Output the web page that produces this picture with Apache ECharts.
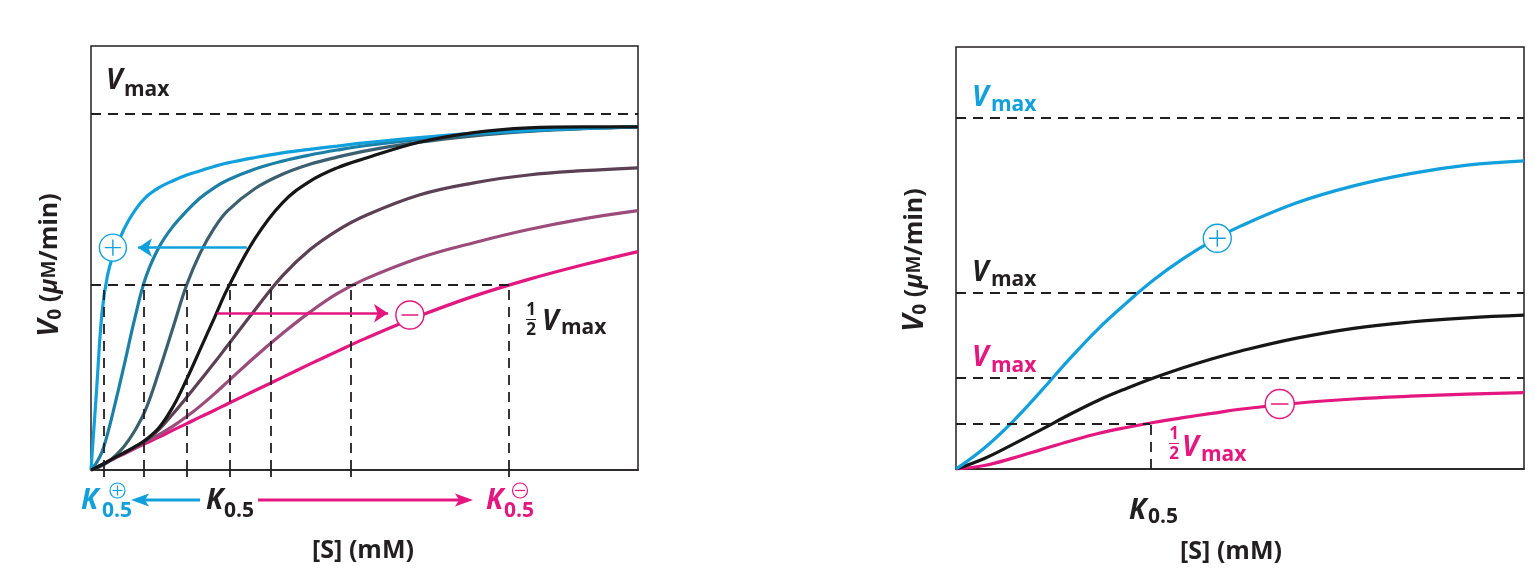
<!DOCTYPE html>
<html>
<head>
<meta charset="utf-8">
<title>Allosteric modulation</title>
<script src="https://cdn.jsdelivr.net/npm/echarts@6/dist/echarts.min.js"></script>
<style>
  html, body { width: 100%; height: 100%; margin: 0; padding: 0; background: #fff; }
  #main { width: 1535px; height: 578px; }
</style>
</head>
<body>
<div id="main"></div>
<script type="text/javascript">
// ---- left panel: K0.5 shifted by modulators ----
var sLeft     = [0, 0.1, 0.2, 0.3, 0.4, 0.6, 0.8, 1, 1.25, 1.5, 1.75, 2, 2.25, 2.5, 3, 3.5, 4, 4.5, 5, 6, 7, 8, 9, 10];
var vBlue     = [0, 0.22, 0.44, 0.545, 0.6, 0.675, 0.728, 0.765, 0.793, 0.812, 0.828, 0.84, 0.852, 0.862, 0.877, 0.89, 0.9, 0.909, 0.918, 0.933, 0.945, 0.953, 0.959, 0.963];
var vTeal     = [0, 0.02, 0.05, 0.1, 0.16, 0.29, 0.425, 0.54, 0.627, 0.684, 0.727, 0.764, 0.792, 0.814, 0.845, 0.867, 0.884, 0.898, 0.91, 0.928, 0.942, 0.952, 0.959, 0.963];
var vSlate    = [0, 0.005, 0.012, 0.022, 0.034, 0.065, 0.11, 0.17, 0.28, 0.4, 0.52, 0.61, 0.678, 0.728, 0.79, 0.83, 0.858, 0.878, 0.895, 0.92, 0.938, 0.95, 0.958, 0.963];
var vBlack    = [0, 0.007, 0.015, 0.023, 0.032, 0.048, 0.065, 0.085, 0.12, 0.178, 0.255, 0.34, 0.425, 0.51, 0.65, 0.75, 0.81, 0.848, 0.874, 0.92, 0.947, 0.96, 0.963, 0.963];
var vPlum     = [0, 0.007, 0.015, 0.023, 0.032, 0.048, 0.065, 0.082, 0.115, 0.158, 0.204, 0.252, 0.3, 0.35, 0.45, 0.545, 0.618, 0.672, 0.713, 0.772, 0.806, 0.828, 0.84, 0.848];
var vMauve    = [0, 0.007, 0.015, 0.023, 0.031, 0.046, 0.062, 0.079, 0.1, 0.123, 0.15, 0.18, 0.213, 0.248, 0.318, 0.383, 0.443, 0.495, 0.535, 0.595, 0.638, 0.675, 0.705, 0.728];
var vMagenta  = [0, 0.007, 0.015, 0.022, 0.03, 0.045, 0.06, 0.075, 0.093, 0.112, 0.13, 0.149, 0.167, 0.186, 0.223, 0.26, 0.297, 0.333, 0.368, 0.432, 0.488, 0.535, 0.576, 0.613];
var kLeft     = [0.225, 0.97, 1.75, 2.53, 3.29, 4.75, 7.64];
var vmaxLeft  = 1.0;
var halfLeft  = 0.52;

// ---- right panel: Vmax changed by modulators ----
var sRight    = [0, 0.5, 1, 1.5, 2, 2.5, 3, 3.5, 4, 4.5, 5, 6, 7, 8, 9, 10];
var vBlueR    = [0, 0.06, 0.135, 0.222, 0.313, 0.398, 0.472, 0.54, 0.598, 0.648, 0.69, 0.757, 0.805, 0.84, 0.864, 0.876];
var vBlackR   = [0, 0.03, 0.07, 0.112, 0.155, 0.195, 0.229, 0.26, 0.288, 0.313, 0.335, 0.372, 0.4, 0.418, 0.43, 0.4375];
var vMagentaR = [0, 0.01, 0.031, 0.055, 0.079, 0.101, 0.118, 0.133, 0.146, 0.158, 0.17, 0.187, 0.199, 0.207, 0.213, 0.217];
var vmaxRight = [1.0, 0.504, 0.255];
var halfRight = 0.13;
var kRight    = 3.42;

// annotation anchors (data units)
var arrowPlusL  = [[2.85, 0.624], [0.86, 0.624]];
var signPlusL   = [0.4, 0.624];
var arrowMinusL = [[2.3, 0.44], [5.43, 0.44]];
var signMinusL  = [5.83, 0.435];
var signPlusR   = [4.6, 0.656];
var signMinusR  = [5.7, 0.185];

var DARK = '#231f20', BLUE = '#12a0dc', MAG = '#e3177f';
var FONT = '"Open Sans"';
var PLUS = 'path://M1,11 A10,10 0 1,1 21,11 A10,10 0 1,1 1,11 Z M5,11 L17,11 M11,5 L11,17';
var MINUS = 'path://M1,11 A10,10 0 1,1 21,11 A10,10 0 1,1 1,11 Z M5,11 L17,11';

var myChart = echarts.init(document.getElementById('main'));

function zip(xs, ys) {
    return xs.map(function (x, i) { return [x, ys[i]]; });
}

function curve(idx, color, xs, ys) {
    return {
        type: 'line', xAxisIndex: idx, yAxisIndex: idx,
        data: zip(xs, ys), smooth: 0.4,
        showSymbol: false, silent: true, z: 3,
        lineStyle: { color: color, width: 3.2 }
    };
}

function sign(idx, color, pos, path, size) {
    return {
        type: 'line', xAxisIndex: idx, yAxisIndex: idx, data: [], z: 6, silent: true,
        markPoint: {
            symbol: path, symbolSize: size, silent: true, animation: false,
            label: { show: false },
            itemStyle: { color: '#fff', borderColor: color, borderWidth: 1.4 },
            data: [{ coord: pos }]
        }
    };
}

function arrow(idx, color, ends) {
    return {
        type: 'line', xAxisIndex: idx, yAxisIndex: idx, data: [], z: 5, silent: true,
        color: color,
        markLine: {
            silent: true, animation: false, symbol: ['none', 'arrow'], symbolSize: 14,
            label: { show: false },
            lineStyle: { color: color, width: 2.6, type: 'solid' },
            data: [[{ coord: ends[0] }, { coord: ends[1] }]]
        }
    };
}

function dashes(idx, data) {
    return {
        type: 'line', xAxisIndex: idx, yAxisIndex: idx, data: [], z: 1, silent: true,
        markLine: {
            silent: true, animation: false, symbol: 'none',
            label: { show: false },
            lineStyle: { color: DARK, width: 1.8, type: [10, 7] },
            data: data
        }
    };
}

// text helper: x, baseline y
function tb(x, base, text, size, color, italic, align) {
    return {
        type: 'text', x: x, y: base - 0.32 * size, silent: true,
        style: {
            text: text, fill: color, fontFamily: FONT, fontSize: size,
            fontWeight: 'bold', fontStyle: italic ? 'italic' : 'normal',
            align: align || 'left', verticalAlign: 'middle'
        }
    };
}

function smallSign(cx, cy, color, plus) {
    var els = [
        { type: 'circle', shape: { cx: cx, cy: cy, r: 7.5 }, style: { fill: '#fff', stroke: color, lineWidth: 1.2 } },
        { type: 'line', shape: { x1: cx - 5, y1: cy, x2: cx + 5, y2: cy }, style: { stroke: color, lineWidth: 1.2 } }
    ];
    if (plus) {
        els.push({ type: 'line', shape: { x1: cx, y1: cy - 5, x2: cx, y2: cy + 5 }, style: { stroke: color, lineWidth: 1.2 } });
    }
    return els;
}

function half(x, base, color) {
    return [
        tb(x, base, '1', 17, color, false, 'center'),
        { type: 'line', shape: { x1: x - 5, y1: base + 3.5, x2: x + 5, y2: base + 3.5 }, style: { stroke: color, lineWidth: 1 } },
        tb(x, base + 20, '2', 17, color, false, 'center')
    ];
}

// rotated y-axis title, centred at (cx, cy)
function yTitle(cx, cy) {
    return {
        type: 'text', x: cx, y: cy, rotation: Math.PI / 2, silent: true,
        style: {
            text: '{v|V}{s|0}{t| (}{mu|μ}{m|M}{t|/min)}',
            align: 'center', verticalAlign: 'middle',
            rich: {
                v: { fontFamily: FONT, fontSize: 29, fontWeight: 'bold', fontStyle: 'italic', fill: DARK },
                s: { fontFamily: FONT, fontSize: 19, fontWeight: 'bold', fill: DARK, verticalAlign: 'bottom', padding: [12, 0, 0, 0] },
                t: { fontFamily: FONT, fontSize: 25, fontWeight: 'bold', fill: DARK },
                mu: { fontFamily: FONT, fontSize: 25, fontWeight: 'bold', fontStyle: 'italic', fill: DARK },
                m: { fontFamily: FONT, fontSize: 19, fontWeight: 'bold', fill: DARK }
            }
        }
    };
}

function xTitle(cx, cy) {
    return {
        type: 'text', x: cx, y: cy, silent: true,
        style: { text: '[S] (mM)', fontFamily: FONT, fontSize: 25, fontWeight: 'bold', fill: DARK, align: 'center', verticalAlign: 'middle' }
    };
}

var leftDash = [{ yAxis: vmaxLeft }, [{ coord: [0, halfLeft] }, { coord: [kLeft[kLeft.length - 1], halfLeft] }]];
kLeft.forEach(function (k) {
    leftDash.push([{ coord: [k, 0] }, { coord: [k, halfLeft] }]);
});
var rightDash = vmaxRight.map(function (v) { return { yAxis: v }; });
rightDash.push([{ coord: [0, halfRight] }, { coord: [kRight, halfRight] }]);
rightDash.push([{ coord: [kRight, 0] }, { coord: [kRight, halfRight] }]);

function xAx(idx, ticks) {
    return {
        type: 'value', gridIndex: idx, min: 0, max: 10,
        axisLine: { show: true, lineStyle: { color: DARK, width: 1.5 } },
        axisTick: ticks ? { show: true, customValues: ticks, length: 7, lineStyle: { color: DARK, width: 1.8 } } : { show: false },
        axisLabel: { show: false },
        splitLine: { show: false }
    };
}

function yAx(idx, max) {
    return {
        type: 'value', gridIndex: idx, min: 0, max: max,
        axisLine: { show: false }, axisTick: { show: false },
        axisLabel: { show: false }, splitLine: { show: false }
    };
}

var graphics = [].concat(
    // axis titles
    yTitle(50, 265), xTitle(363, 551),
    yTitle(915, 260), xTitle(1231, 552),
    // left panel labels
    tb(106, 90, 'V', 28, DARK, true), tb(124, 97, 'max', 21, DARK),
    half(531, 316, DARK), tb(542, 331, 'V', 28, DARK, true), tb(561, 335, 'max', 21, DARK),
    tb(81, 510, 'K', 28, BLUE, true), tb(102, 518, '0.5', 21, BLUE), smallSign(117.5, 490.5, BLUE, true),
    tb(206, 510, 'K', 28, DARK, true), tb(224, 518, '0.5', 21, DARK),
    tb(486, 510, 'K', 28, MAG, true), tb(504, 518, '0.5', 21, MAG), smallSign(520, 490.5, MAG, false),
    [
        { type: 'line', shape: { x1: 200, y1: 500, x2: 142, y2: 500 }, style: { stroke: BLUE, lineWidth: 3 } },
        { type: 'polygon', shape: { points: [[131, 500], [149, 493.5], [145, 500], [149, 506.5]] }, style: { fill: BLUE } },
        { type: 'line', shape: { x1: 258, y1: 500, x2: 462, y2: 500 }, style: { stroke: MAG, lineWidth: 3 } },
        { type: 'polygon', shape: { points: [[473, 500], [455, 493.5], [459, 500], [455, 506.5]] }, style: { fill: MAG } }
    ],
    // right panel labels
    tb(972, 107, 'V', 28, BLUE, true), tb(991, 112, 'max', 21, BLUE),
    tb(972, 282, 'V', 28, DARK, true), tb(991, 287, 'max', 21, DARK),
    tb(972, 367, 'V', 28, MAG, true), tb(991, 373, 'max', 21, MAG),
    half(1174, 440, MAG), tb(1182, 457, 'V', 28, MAG, true), tb(1201, 462, 'max', 21, MAG),
    tb(1129, 520, 'K', 28, DARK, true), tb(1148, 524, '0.5', 21, DARK)
);

myChart.setOption({
    backgroundColor: '#fff',
    animation: false,
    grid: [
        { left: 91, top: 46, width: 547, height: 424, show: true, borderColor: DARK, borderWidth: 1.5 },
        { left: 956, top: 47, width: 568, height: 422, show: true, borderColor: DARK, borderWidth: 1.5 }
    ],
    xAxis: [xAx(0, kLeft), xAx(1, null)],
    yAxis: [yAx(0, 1.19), yAx(1, 1.2)],
    series: [
        dashes(0, leftDash),
        curve(0, MAG, sLeft, vMagenta),
        curve(0, '#9b4c7a', sLeft, vMauve),
        curve(0, '#5c4053', sLeft, vPlum),
        curve(0, '#3c5f6f', sLeft, vSlate),
        curve(0, '#1c7fa5', sLeft, vTeal),
        curve(0, BLUE, sLeft, vBlue),
        curve(0, '#161616', sLeft, vBlack),
        arrow(0, BLUE, arrowPlusL),
        arrow(0, MAG, arrowMinusL),
        sign(0, BLUE, signPlusL, PLUS, 27),
        sign(0, MAG, signMinusL, MINUS, 28),

        dashes(1, rightDash),
        curve(1, MAG, sRight, vMagentaR),
        curve(1, '#161616', sRight, vBlackR),
        curve(1, BLUE, sRight, vBlueR),
        sign(1, BLUE, signPlusR, PLUS, 28),
        sign(1, MAG, signMinusR, MINUS, 29)
    ],
    graphic: { elements: graphics }
});

window.addEventListener('resize', function () {
    myChart.resize();
});
</script>
</body>
</html>
